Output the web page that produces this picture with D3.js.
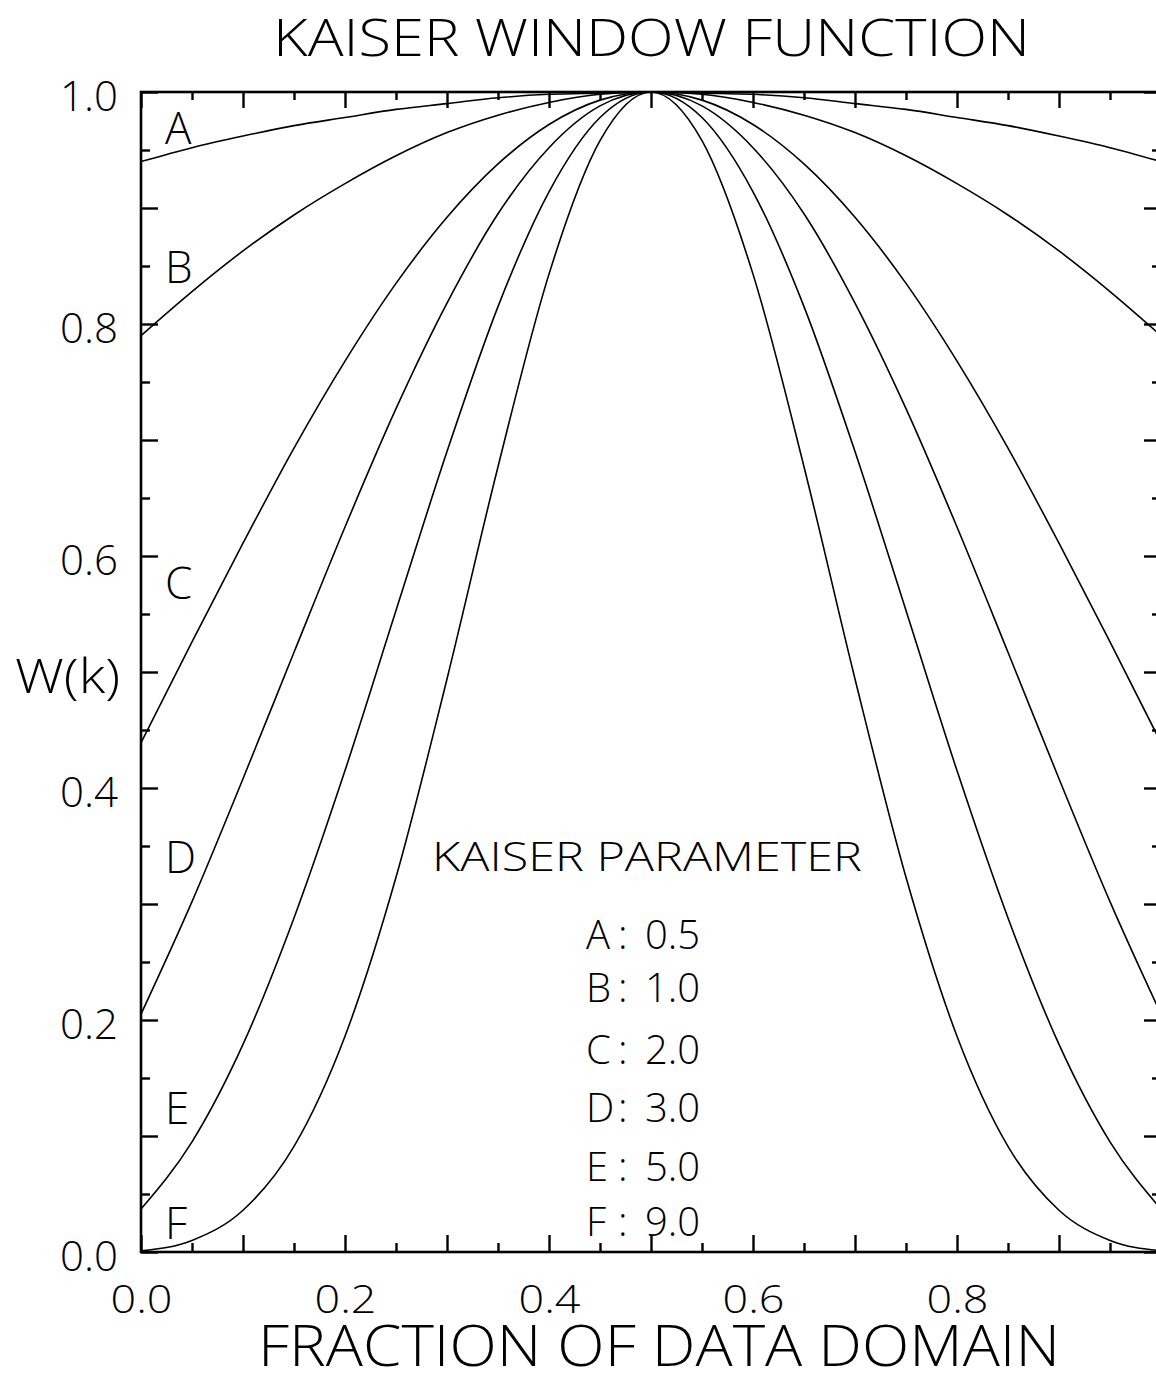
<!DOCTYPE html>
<html>
<head>
<meta charset="utf-8">
<script src="https://cdn.jsdelivr.net/npm/d3@7"></script>
<style>
  html, body { margin: 0; padding: 0; background: #fff; }
  svg { display: block; }
  text { font-family: "Open Sans", "Liberation Sans", Arial, sans-serif; font-weight: 300; fill: #000; }
</style>
</head>
<body>
<svg id="chart" width="1156" height="1383"></svg>
<script>
// Fraction of the data domain at which each window is sampled
const fraction = [0, 0.05, 0.1, 0.15, 0.2, 0.25, 0.3, 0.35, 0.4, 0.45, 0.5,
                  0.55, 0.6, 0.65, 0.7, 0.75, 0.8, 0.85, 0.9, 0.95, 1];

// Window weight W(k) for each Kaiser parameter
const windowA = [0.940, 0.952, 0.962, 0.971, 0.978, 0.985, 0.990, 0.995, 0.998, 0.999, 1.000,
                 0.999, 0.998, 0.995, 0.990, 0.985, 0.978, 0.971, 0.962, 0.952, 0.940];
const windowB = [0.790, 0.828, 0.863, 0.894, 0.921, 0.945, 0.965, 0.980, 0.991, 0.998, 1.000,
                 0.998, 0.991, 0.980, 0.965, 0.945, 0.921, 0.894, 0.863, 0.828, 0.790];
const windowC = [0.439, 0.526, 0.611, 0.693, 0.768, 0.835, 0.892, 0.938, 0.972, 0.993, 1.000,
                 0.993, 0.972, 0.938, 0.892, 0.835, 0.768, 0.693, 0.611, 0.526, 0.439];
const windowD = [0.205, 0.302, 0.408, 0.517, 0.625, 0.727, 0.818, 0.895, 0.952, 0.988, 1.000,
                 0.988, 0.952, 0.895, 0.818, 0.727, 0.625, 0.517, 0.408, 0.302, 0.205];
const windowE = [0.037, 0.095, 0.179, 0.288, 0.415, 0.553, 0.690, 0.815, 0.914, 0.978, 1.000,
                 0.978, 0.914, 0.815, 0.690, 0.553, 0.415, 0.288, 0.179, 0.095, 0.037];
const windowF = [0.001, 0.010, 0.036, 0.091, 0.186, 0.323, 0.494, 0.677, 0.843, 0.958, 1.000,
                 0.958, 0.843, 0.677, 0.494, 0.323, 0.186, 0.091, 0.036, 0.010, 0.001];

const curveNames = ["A", "B", "C", "D", "E", "F"];
const curveValues = [windowA, windowB, windowC, windowD, windowE, windowF];
const kaiserParams = ["0.5", "1.0", "2.0", "3.0", "5.0", "9.0"];
// Where each curve letter sits along the left edge (W value of its baseline)
const letterLevels = [0.955, 0.835, 0.563, 0.327, 0.110, 0.011];

const xTickLabels = [0.0, 0.2, 0.4, 0.6, 0.8];
const yTickLabels = [0.0, 0.2, 0.4, 0.6, 0.8, 1.0];

const svg = d3.select("#chart");
const x = d3.scaleLinear().domain([0, 1]).range([141, 1161]);
const y = d3.scaleLinear().domain([0, 1]).range([1252, 92]);

const majorTicks = d3.range(0, 11).map(i => i / 10);
const minorTicks = d3.range(0, 10).map(i => i / 10 + 0.05);

// Inward-pointing ticks on all four sides
function tickAxis(gen, ticks, len, tx, ty) {
  const g = svg.append("g").attr("transform", `translate(${tx},${ty})`)
    .call(gen.tickValues(ticks).tickSize(len).tickFormat(""));
  g.select(".domain").remove();
  g.selectAll(".tick line").attr("stroke", "#000").attr("stroke-width", 2.4);
  return g;
}
tickAxis(d3.axisBottom(x), majorTicks, -17, 0, y(0));
tickAxis(d3.axisBottom(x), minorTicks, -9, 0, y(0));
tickAxis(d3.axisTop(x), majorTicks, -16, 0, y(1));
tickAxis(d3.axisTop(x), minorTicks, -8, 0, y(1));
tickAxis(d3.axisLeft(y), majorTicks, -17, x(0), 0);
tickAxis(d3.axisLeft(y), minorTicks, -9, x(0), 0);
tickAxis(d3.axisRight(y), majorTicks, -17, x(1), 0);
tickAxis(d3.axisRight(y), minorTicks, -9, x(1), 0);

// Plot frame
svg.append("rect")
  .attr("x", x(0)).attr("y", y(1))
  .attr("width", x(1) - x(0)).attr("height", y(0) - y(1))
  .attr("fill", "none").attr("stroke", "#000").attr("stroke-width", 2.6);

// Tick labels
const xLab = svg.append("g").attr("transform", `translate(0,${y(0)})`)
  .call(d3.axisBottom(x).tickValues(xTickLabels).tickSize(0).tickPadding(33).tickFormat(d3.format(".1f")));
xLab.select(".domain").remove();
xLab.selectAll("text")
  .attr("font-size", 39).attr("font-family", null)
  .attr("textLength", 62).attr("lengthAdjust", "spacingAndGlyphs");

const yLab = svg.append("g").attr("transform", `translate(${x(0)},0)`)
  .call(d3.axisLeft(y).tickValues(yTickLabels).tickSize(0).tickPadding(23).tickFormat(d3.format(".1f")));
yLab.select(".domain").remove();
yLab.selectAll("text")
  .attr("font-size", 42).attr("font-family", null).attr("dy", "0.45em");

// Window curves
const line = d3.line()
  .x((d, i) => x(fraction[i]))
  .y(d => y(d))
  .curve(d3.curveMonotoneX);

svg.append("g").selectAll("path")
  .data(curveValues)
  .join("path")
  .attr("d", line)
  .attr("fill", "none")
  .attr("stroke", "#000")
  .attr("stroke-width", 1.6);

// Curve letters along the left edge
svg.append("g").selectAll("text")
  .data(curveNames)
  .join("text")
  .attr("x", 165)
  .attr("y", (d, i) => y(letterLevels[i]))
  .attr("font-size", 44)
  .text(d => d);

// Titles
svg.append("text")
  .attr("x", 273).attr("y", 56)
  .attr("font-size", 52)
  .attr("textLength", 757).attr("lengthAdjust", "spacingAndGlyphs")
  .text("KAISER WINDOW FUNCTION");

svg.append("text")
  .attr("x", 258).attr("y", 1366)
  .attr("font-size", 57)
  .attr("textLength", 802).attr("lengthAdjust", "spacingAndGlyphs")
  .text("FRACTION OF DATA DOMAIN");

svg.append("text")
  .attr("x", 15).attr("y", 693)
  .attr("font-size", 48)
  .attr("textLength", 105).attr("lengthAdjust", "spacingAndGlyphs")
  .text("W(k)");

// Legend
svg.append("text")
  .attr("x", 432).attr("y", 871)
  .attr("font-size", 40)
  .attr("textLength", 430).attr("lengthAdjust", "spacingAndGlyphs")
  .text("KAISER PARAMETER");

const legendBaselines = [949, 1002, 1064, 1122, 1181, 1236];
const legendRows = svg.append("g").selectAll("text")
  .data(curveNames)
  .join("text")
  .attr("y", (d, i) => legendBaselines[i])
  .attr("font-size", 40);
legendRows.append("tspan").attr("x", 586).text(d => d);
legendRows.append("tspan").attr("x", 618).text(":");
legendRows.append("tspan").attr("x", 645).text((d, i) => kaiserParams[i]);
</script>
</body>
</html>
